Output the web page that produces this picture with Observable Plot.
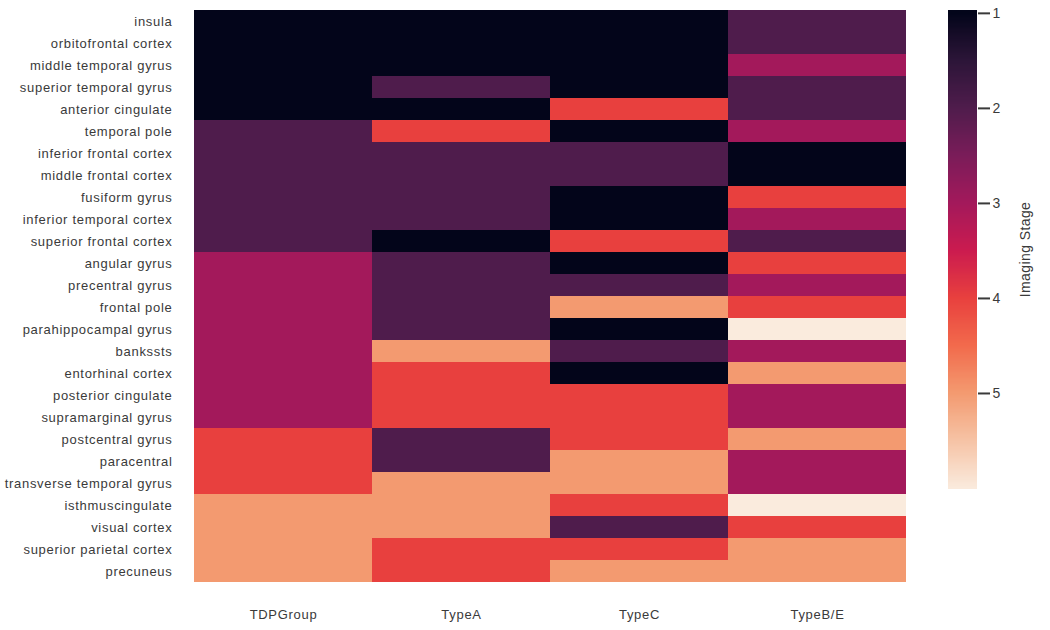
<!DOCTYPE html>
<html>
<head>
<meta charset="utf-8">
<script src="https://cdn.jsdelivr.net/npm/d3@7"></script>
<script src="https://cdn.jsdelivr.net/npm/@observablehq/plot@0.6"></script>
<style>
  html, body { margin: 0; padding: 0; background: #fff; }
  #wrap { position: relative; width: 1050px; height: 630px; overflow: hidden; }
  #main, #bar { position: absolute; top: 0; }
  #main { left: 0; }
  #bar { left: 930px; }
  #bar g[aria-label="y-axis tick"] path { stroke-width: 2px; }
</style>
</head>
<body>
<div id="wrap"><div id="main"></div><div id="bar"></div></div>
<script>
const regions = [
  "insula", "orbitofrontal cortex", "middle temporal gyrus", "superior temporal gyrus",
  "anterior cingulate", "temporal pole", "inferior frontal cortex", "middle frontal cortex",
  "fusiform gyrus", "inferior temporal cortex", "superior frontal cortex", "angular gyrus",
  "precentral gyrus", "frontal pole", "parahippocampal gyrus", "bankssts",
  "entorhinal cortex", "posterior cingulate", "supramarginal gyrus", "postcentral gyrus",
  "paracentral", "transverse temporal gyrus", "isthmuscingulate", "visual cortex",
  "superior parietal cortex", "precuneus"
];
const groups = ["TDPGroup", "TypeA", "TypeC", "TypeB/E"];
const tdpGroup = [1,1,1,1,1, 2,2,2,2,2,2, 3,3,3,3,3,3,3,3, 4,4,4, 5,5,5,5];
const typeA    = [1,1,1,2,1, 4,2,2,2,2,1, 2,2,2,2,5,4,4,4, 2,2,5, 5,5,4,4];
const typeC    = [1,1,1,1,4, 1,2,2,1,1,4, 1,2,5,1,2,1,4,4, 4,5,5, 4,2,4,5];
const typeBE   = [2,2,3,2,2, 3,1,1,4,3,2, 4,3,4,6,3,5,3,3, 5,3,3, 6,4,5,5];
const stageTicks = [1, 2, 3, 4, 5];
const stageRange = [1, 6];
const rocketStops = ["#03051a", "#2c1538", "#4f1c4c", "#7a1c59", "#a3195b", "#cb1b4f",
                     "#e8403e", "#f26a4c", "#f39a70", "#f6c3a5", "#faebdd"];

const seriesByGroup = [tdpGroup, typeA, typeC, typeBE];
const table = [];
groups.forEach((g, gi) => {
  regions.forEach((r, ri) => table.push({group: g, region: r, stage: seriesByGroup[gi][ri]}));
});

const rocket = d3.piecewise(d3.interpolateRgb, rocketStops);
const colorOpts = {type: "linear", domain: stageRange, interpolate: () => rocket, clamp: true};
const font = {fontFamily: "'Liberation Sans', Arial, sans-serif", fontSize: "13px", letterSpacing: "0.7px",
              color: "#3a3a3a", background: "transparent"};

const main = Plot.plot({
  width: 930, height: 630,
  marginLeft: 193, marginRight: 23, marginTop: 8, marginBottom: 47,
  style: font,
  x: {domain: groups, padding: 0, label: null, tickSize: 0, tickPadding: 26},
  y: {domain: regions, padding: 0, label: null, tickSize: 0, tickPadding: 21},
  color: colorOpts,
  marks: [
    Plot.cell(table, {x: "group", y: "region", fill: "stage", inset: 0, shapeRendering: "crispEdges"})
  ]
});
document.getElementById("main").appendChild(main);

// colour bar: a fine gradient of stage values across the colour scale's domain
const barLo = 0.97, barHi = stageRange[1];
const nSteps = 400, step = (barHi - barLo) / nSteps;
const barData = d3.range(nSteps).map(i => barLo + i * step);
const bar = Plot.plot({
  width: 120, height: 630,
  marginLeft: 18, marginRight: 73, marginTop: 10, marginBottom: 142,
  style: {...font, fontSize: "14px", letterSpacing: "0.4px"},
  x: {domain: [0, 1], axis: null},
  y: {domain: [barLo, barHi], reverse: true, axis: "right", ticks: stageTicks, tickFormat: d3.format("d"),
      tickSize: 12, tickPadding: 3, label: "Imaging Stage", labelAnchor: "center", labelArrow: "none", labelOffset: 52},
  color: colorOpts,
  marks: [
    Plot.rect(barData, {x1: () => 0, x2: () => 1, y1: d => d, y2: d => d + step * 1.5, fill: d => d + step / 2, shapeRendering: "crispEdges"})
  ]
});
document.getElementById("bar").appendChild(bar);
</script>
</body>
</html>
